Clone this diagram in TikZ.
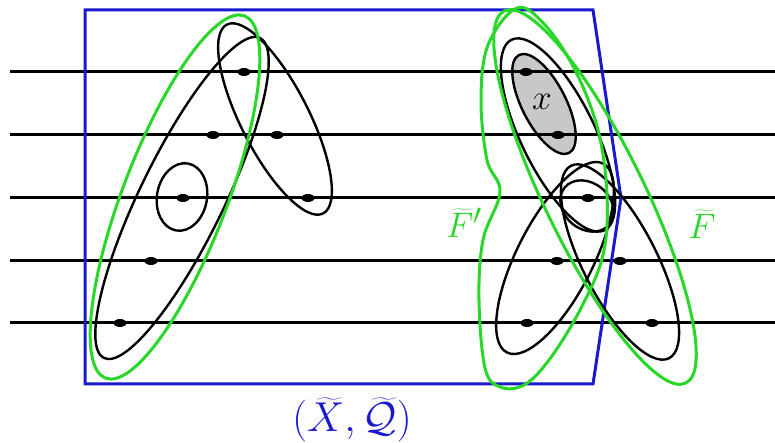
\documentclass[tikz,border=0pt]{standalone}
\usetikzlibrary{shapes.geometric}
\definecolor{hgreen}{RGB}{40,215,40}
\definecolor{hblue}{RGB}{25,25,205}
\definecolor{hgray}{RGB}{200,200,200}
\begin{document}
\begin{tikzpicture}[x=1pt,y=1pt,
  hline/.style={line width=3pt,black},
  blk/.style={line width=2.4pt,black},
  grn/.style={line width=3pt,hgreen},
  frame/.style={line width=3pt,hblue,line join=miter},
  dotmark/.style={ellipse,fill=black,draw=none,minimum width=13pt,minimum height=8pt,inner sep=0pt},
  lbl/.style={inner sep=0pt,font=\Huge,transform shape}]
\useasboundingbox (0,0) rectangle (775,443);
% gray filled small ellipse
\fill[hgray] (544,339) ellipse [x radius=55, y radius=22, rotate=-63];
% horizontal lines
\foreach \yy/\nm in {371/a,308/b,245/c,182/d,120/e}{
  \coordinate (L\nm) at (10,\yy);
  \coordinate (R\nm) at (775,\yy);
  \draw[hline] (L\nm) -- (R\nm);
}
% blue frame
\coordinate (b1) at (85,433);
\coordinate (b2) at (593,433);
\coordinate (b3) at (621,245);
\coordinate (b4) at (593,59);
\coordinate (b5) at (85,59);
\draw[frame] (b1) -- (b2) -- (b3) -- (b4) -- (b5) -- cycle;
% left black ellipses
\draw[blk] (182,245) ellipse [x radius=178, y radius=42, rotate=64];
\draw[blk] (182,246) ellipse [x radius=34, y radius=25, rotate=80];
\draw[blk] (275,324) ellipse [x radius=106, y radius=34, rotate=-63];
% left green
\draw[grn] (175,246) ellipse [x radius=194, y radius=52, rotate=69];
% right black ellipses
\draw[blk] (544,339) ellipse [x radius=55, y radius=22, rotate=-63];
\draw[blk] (558,308) ellipse [x radius=106, y radius=37, rotate=-64];
\draw[blk] (587,237) ellipse [x radius=29, y radius=23, rotate=-40];
\draw[blk] (555,185) ellipse [x radius=106, y radius=38, rotate=63];
\draw[blk] (620,181) ellipse [x radius=108, y radius=37, rotate=-63];
% right green
\draw[grn] (595,246) ellipse [x radius=207, y radius=50, rotate=-64];
\draw[grn] plot[smooth cycle,tension=0.6] coordinates {(517,435) (545,418) (575,373) (598,313) (607,248) (603,188) (580,133) (549,83) (524,58) (500,56) (485,75) (479,143) (483,203) (500,251) (487,283) (481,343) (488,398)};
% dots
\foreach \px/\py/\nm in {244/371/p1,213/308/p2,277/308/p3,183/245/p4,308/245/p5,151/182/p6,120/120/p7,
  526/371/q1,558/308/q2,588/245/q3,557/182/q4,620/182/q5,527/120/q6,652/120/q7}{
  \node[dotmark] (\nm) at (\px,\py) {};
}
% labels
\node[lbl,scale=1.42] (xl) at (542,341) {$x$};
\node[lbl,scale=1.42,text=hgreen] (fp) at (464,220) {$\widetilde{F}'$};
\node[lbl,scale=1.42,text=hgreen] (ff) at (702,219) {$\widetilde{F}$};
\node[lbl,scale=1.68,text=hblue] (xq) at (352,23) {$(\widetilde{X},\widetilde{\mathcal{Q}})$};
\end{tikzpicture}
\end{document}
